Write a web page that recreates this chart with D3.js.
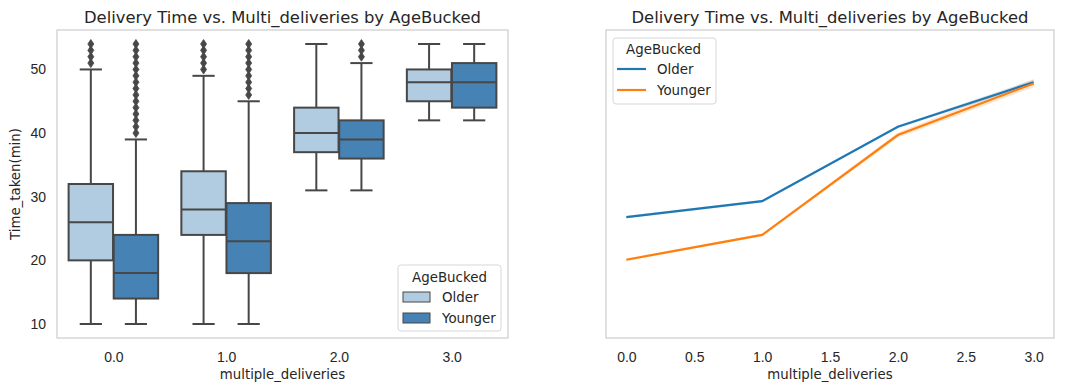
<!DOCTYPE html>
<html>
<head>
<meta charset="utf-8">
<script src="https://cdn.jsdelivr.net/npm/d3@7"></script>
<style>
  body { margin: 0; background: #fff; }
  svg { font-family: "DejaVu Sans", sans-serif; }
  text { fill: #262626; }
</style>
</head>
<body>
<div id="chart"></div>
<script>
// ---- data ----
var categories = [0, 1, 2, 3];
var catLabels = ["0.0", "1.0", "2.0", "3.0"];
var groups = ["Older", "Younger"];
var yTicks = [10, 20, 30, 40, 50];
var lineTicks = [0, 0.5, 1, 1.5, 2, 2.5, 3];

// box stats: [whisker low, q1, median, q3, whisker high]
var olderBox = [[10, 20, 26, 32, 50], [10, 24, 28, 34, 49], [31, 37, 40, 44, 54], [42, 45, 48, 50, 54]];
var youngerBox = [[10, 14, 18, 24, 39], [10, 18, 23, 29, 45], [31, 36, 39, 42, 51], [42, 44, 48, 51, 54]];
var olderFliers = [[51, 52, 53, 54], [50, 51, 52, 53, 54], [], []];
var youngerFliers = [
  [40, 41, 42, 43, 44, 45, 46, 47, 48, 49, 50, 51, 52, 53, 54],
  [46, 47, 48, 49, 50, 51, 52, 53, 54],
  [52, 53, 54],
  []
];

// mean lines + ci
var olderMean = [26.8, 29.3, 41.0, 48.0];
var youngerMean = [20.1, 24.0, 39.7, 47.8];
var olderLo = [26.6, 29.1, 40.8, 47.6];
var olderHi = [27.0, 29.5, 41.2, 48.4];
var youngerLo = [19.9, 23.8, 39.3, 47.2];
var youngerHi = [20.3, 24.2, 40.1, 48.5];

var boxColors = ["#b1cce0", "#4682b4"];
var lineColors = ["#1f77b4", "#ff7f0e"];
var gray = "#474747";
var spine = "#cccccc";

var W = 1074, H = 391;
var svg = d3.select("#chart").append("svg")
  .attr("width", W).attr("height", H)
  .style("background", "#fff");

var plotTop = 30, plotBottom = 338;
var y = d3.scaleLinear().domain([7.8, 56.2]).range([plotBottom, plotTop]);

// ================= left: boxplot =================
var L = { left: 57, right: 508 };
var x1 = d3.scaleLinear().domain([-0.5, 3.5]).range([L.left, L.right]);

var left = svg.append("g");

left.append("g")
  .attr("transform", "translate(" + L.left + ",0)")
  .call(d3.axisLeft(y).tickValues(yTicks).tickSize(0).tickPadding(11))
  .call(function (g) { g.select(".domain").remove(); })
  .selectAll("text").style("font-size", "14px").attr("fill", "#262626");

left.append("g")
  .attr("transform", "translate(0," + plotBottom + ")")
  .call(d3.axisBottom(x1).tickValues(categories).tickSize(0).tickPadding(14)
    .tickFormat(function (d, i) { return catLabels[i]; }))
  .call(function (g) { g.select(".domain").remove(); })
  .selectAll("text").style("font-size", "14px").attr("fill", "#262626");

var boxW = 0.394;
var series = [olderBox, youngerBox];
var fliers = [olderFliers, youngerFliers];
var diamond = "M0,-4.5L3,0L0,4.5L-3,0Z";

groups.forEach(function (grp, gi) {
  var off = gi === 0 ? -0.2 : 0.2;
  var gg = left.append("g").attr("class", "box-" + grp);
  var sel = gg.selectAll("g.box").data(series[gi]).enter().append("g").attr("class", "box");

  // whiskers
  sel.append("line")
    .attr("x1", function (d, i) { return x1(categories[i] + off); })
    .attr("x2", function (d, i) { return x1(categories[i] + off); })
    .attr("y1", function (d) { return y(d[0]); })
    .attr("y2", function (d) { return y(d[1]); })
    .attr("stroke", gray).attr("stroke-width", 2);
  sel.append("line")
    .attr("x1", function (d, i) { return x1(categories[i] + off); })
    .attr("x2", function (d, i) { return x1(categories[i] + off); })
    .attr("y1", function (d) { return y(d[3]); })
    .attr("y2", function (d) { return y(d[4]); })
    .attr("stroke", gray).attr("stroke-width", 2);
  // caps
  [0, 4].forEach(function (k) {
    sel.append("line")
      .attr("x1", function (d, i) { return x1(categories[i] + off - boxW / 4); })
      .attr("x2", function (d, i) { return x1(categories[i] + off + boxW / 4); })
      .attr("y1", function (d) { return y(d[k]); })
      .attr("y2", function (d) { return y(d[k]); })
      .attr("stroke", gray).attr("stroke-width", 2);
  });
  // box
  sel.append("rect")
    .attr("x", function (d, i) { return x1(categories[i] + off - boxW / 2); })
    .attr("width", x1(boxW) - x1(0))
    .attr("y", function (d) { return y(d[3]); })
    .attr("height", function (d) { return y(d[1]) - y(d[3]); })
    .attr("fill", boxColors[gi])
    .attr("stroke", gray).attr("stroke-width", 2);
  // median
  sel.append("line")
    .attr("x1", function (d, i) { return x1(categories[i] + off - boxW / 2); })
    .attr("x2", function (d, i) { return x1(categories[i] + off + boxW / 2); })
    .attr("y1", function (d) { return y(d[2]); })
    .attr("y2", function (d) { return y(d[2]); })
    .attr("stroke", gray).attr("stroke-width", 2);

  // outliers
  fliers[gi].forEach(function (vals, i) {
    gg.selectAll(null).data(vals).enter().append("path")
      .attr("d", diamond)
      .attr("transform", function (v) { return "translate(" + x1(categories[i] + off) + "," + y(v) + ")"; })
      .attr("fill", gray).attr("stroke", gray).attr("stroke-width", 0.8);
  });
});

left.append("rect")
  .attr("x", L.left).attr("y", plotTop)
  .attr("width", L.right - L.left).attr("height", plotBottom - plotTop)
  .attr("fill", "none").attr("stroke", spine).attr("stroke-width", 1.2);

left.append("text")
  .attr("x", (L.left + L.right) / 2).attr("y", 23)
  .attr("text-anchor", "middle").style("font-size", "16.4px")
  .text("Delivery Time vs. Multi_deliveries by AgeBucked");
left.append("text")
  .attr("x", (L.left + L.right) / 2).attr("y", 379)
  .attr("text-anchor", "middle").style("font-size", "13.3px")
  .text("multiple_deliveries");
left.append("text")
  .attr("transform", "translate(19.5," + (plotTop + plotBottom) / 2 + ") rotate(-90)")
  .attr("text-anchor", "middle").style("font-size", "13.3px")
  .text("Time_taken(min)");

// legend (boxplot)
var lg1 = left.append("g").attr("transform", "translate(398,265)");
lg1.append("rect").attr("width", 103).attr("height", 66).attr("rx", 3)
  .attr("fill", "#fff").attr("fill-opacity", 0.8)
  .attr("stroke", "#d6d6d6").attr("stroke-width", 1);
lg1.append("text").attr("x", 51.5).attr("y", 17).attr("text-anchor", "middle")
  .style("font-size", "13.4px").text("AgeBucked");
groups.forEach(function (grp, gi) {
  lg1.append("rect").attr("x", 5).attr("y", 27 + gi * 21).attr("width", 27).attr("height", 10)
    .attr("fill", boxColors[gi]).attr("stroke", gray).attr("stroke-width", 1);
  lg1.append("text").attr("x", 44).attr("y", 37 + gi * 21)
    .style("font-size", "13.4px").text(grp);
});

// ================= right: line plot =================
var R = { left: 606, right: 1054 };
var x2 = d3.scaleLinear().domain([-0.15, 3.15]).range([R.left, R.right]);
var right = svg.append("g");

right.append("g")
  .attr("transform", "translate(0," + plotBottom + ")")
  .call(d3.axisBottom(x2).tickValues(lineTicks).tickSize(0).tickPadding(14).tickFormat(d3.format(".1f")))
  .call(function (g) { g.select(".domain").remove(); })
  .selectAll("text").style("font-size", "14px").attr("fill", "#262626");

var means = [olderMean, youngerMean];
var los = [olderLo, youngerLo];
var his = [olderHi, youngerHi];

var area = d3.area()
  .x(function (d, i) { return x2(categories[i]); })
  .y0(function (d) { return y(d[0]); })
  .y1(function (d) { return y(d[1]); });
var line = d3.line()
  .x(function (d, i) { return x2(categories[i]); })
  .y(function (d) { return y(d); });

groups.forEach(function (grp, gi) {
  var band = los[gi].map(function (v, i) { return [v, his[gi][i]]; });
  right.append("path").datum(band).attr("d", area)
    .attr("fill", lineColors[gi]).attr("fill-opacity", 0.2);
});
groups.forEach(function (grp, gi) {
  right.append("path").datum(means[gi]).attr("d", line)
    .attr("fill", "none").attr("stroke", lineColors[gi]).attr("stroke-width", 2.2);
});

right.append("rect")
  .attr("x", R.left).attr("y", plotTop)
  .attr("width", R.right - R.left).attr("height", plotBottom - plotTop)
  .attr("fill", "none").attr("stroke", spine).attr("stroke-width", 1.2);

right.append("text")
  .attr("x", (R.left + R.right) / 2).attr("y", 23)
  .attr("text-anchor", "middle").style("font-size", "16.4px")
  .text("Delivery Time vs. Multi_deliveries by AgeBucked");
right.append("text")
  .attr("x", (R.left + R.right) / 2).attr("y", 379)
  .attr("text-anchor", "middle").style("font-size", "13.3px")
  .text("multiple_deliveries");

var lg2 = right.append("g").attr("transform", "translate(613,38)");
lg2.append("rect").attr("width", 103).attr("height", 66).attr("rx", 3)
  .attr("fill", "#fff").attr("fill-opacity", 0.8)
  .attr("stroke", "#d6d6d6").attr("stroke-width", 1);
lg2.append("text").attr("x", 50.5).attr("y", 16).attr("text-anchor", "middle")
  .style("font-size", "13.4px").text("AgeBucked");
groups.forEach(function (grp, gi) {
  lg2.append("line").attr("x1", 4).attr("x2", 33)
    .attr("y1", 31 + gi * 21).attr("y2", 31 + gi * 21)
    .attr("stroke", lineColors[gi]).attr("stroke-width", 2.2);
  lg2.append("text").attr("x", 44).attr("y", 36 + gi * 21)
    .style("font-size", "13.4px").text(grp);
});
</script>
</body>
</html>
